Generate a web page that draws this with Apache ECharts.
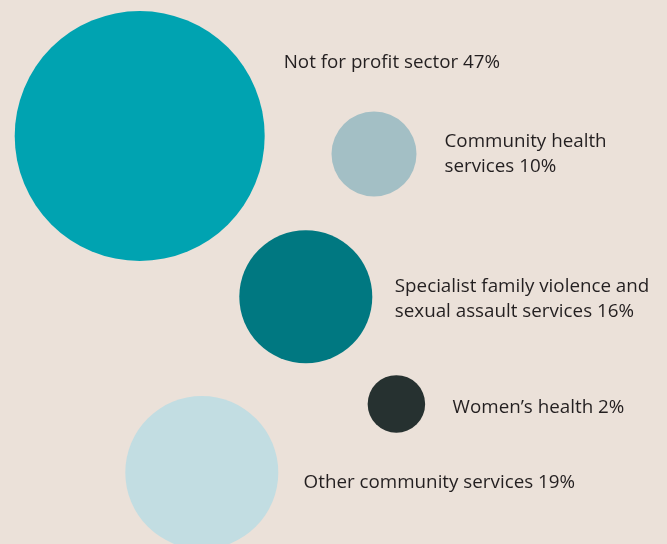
<!DOCTYPE html>
<html>
<head>
<meta charset="utf-8">
<script src="https://cdn.jsdelivr.net/npm/echarts@6/dist/echarts.min.js"></script>
<style>
  html, body { margin: 0; padding: 0; background: #EBE1D9; }
  #chart { width: 667px; height: 544px; }
</style>
</head>
<body>
<div id="chart"></div>
<script>
// ---- data ----
var categories = [
  'Not for profit sector',
  'Community health\nservices',
  'Specialist family violence and\nsexual assault services',
  'Women\u2019s health',
  'Other community services'
];
var shares = [47, 10, 16, 2, 19];

// ---- layout (bubble placement on hidden axes, diameters, label offsets) ----
var bubbleX = [139.7, 374, 305.8, 396.4, 201.8];
var bubbleY = [136, 154, 296.7, 403.9, 472.5];
var bubbleDiameter = [250, 85, 133, 57.5, 153];
var labelDx = [144, 70.5, 89, 56.2, 101.8];
var labelDy = [-73, 0, 2.5, 3.7, 10.2];
var colors = ['#00A3B1', '#A3BFC5', '#007881', '#263130', '#C2DDE2'];

var seriesData = categories.map(function (name, i) {
  var d = bubbleDiameter[i];
  return {
    name: name,
    value: [bubbleX[i], bubbleY[i], shares[i]],
    symbolSize: d,
    itemStyle: { color: colors[i], opacity: 1 },
    label: {
      position: [d / 2 + labelDx[i], d / 2 + labelDy[i]]
    }
  };
});

var chart = echarts.init(document.getElementById('chart'));
chart.setOption({
  backgroundColor: '#EBE1D9',
  animation: false,
  grid: { left: 0, right: 0, top: 0, bottom: 0 },
  xAxis: { type: 'value', min: 0, max: 667, show: false },
  yAxis: { type: 'value', min: 0, max: 544, inverse: true, show: false },
  series: [{
    type: 'scatter',
    symbol: 'circle',
    data: seriesData,
    itemStyle: { opacity: 1 },
    label: {
      show: true,
      formatter: function (p) { return p.name + ' ' + p.value[2] + '%'; },
      align: 'left',
      verticalAlign: 'middle',
      fontFamily: 'Open Sans',
      fontSize: 18.8,
      lineHeight: 24.5,
      color: '#231F20',
      opacity: 1
    },
    emphasis: { disabled: true }
  }]
});
</script>
</body>
</html>
